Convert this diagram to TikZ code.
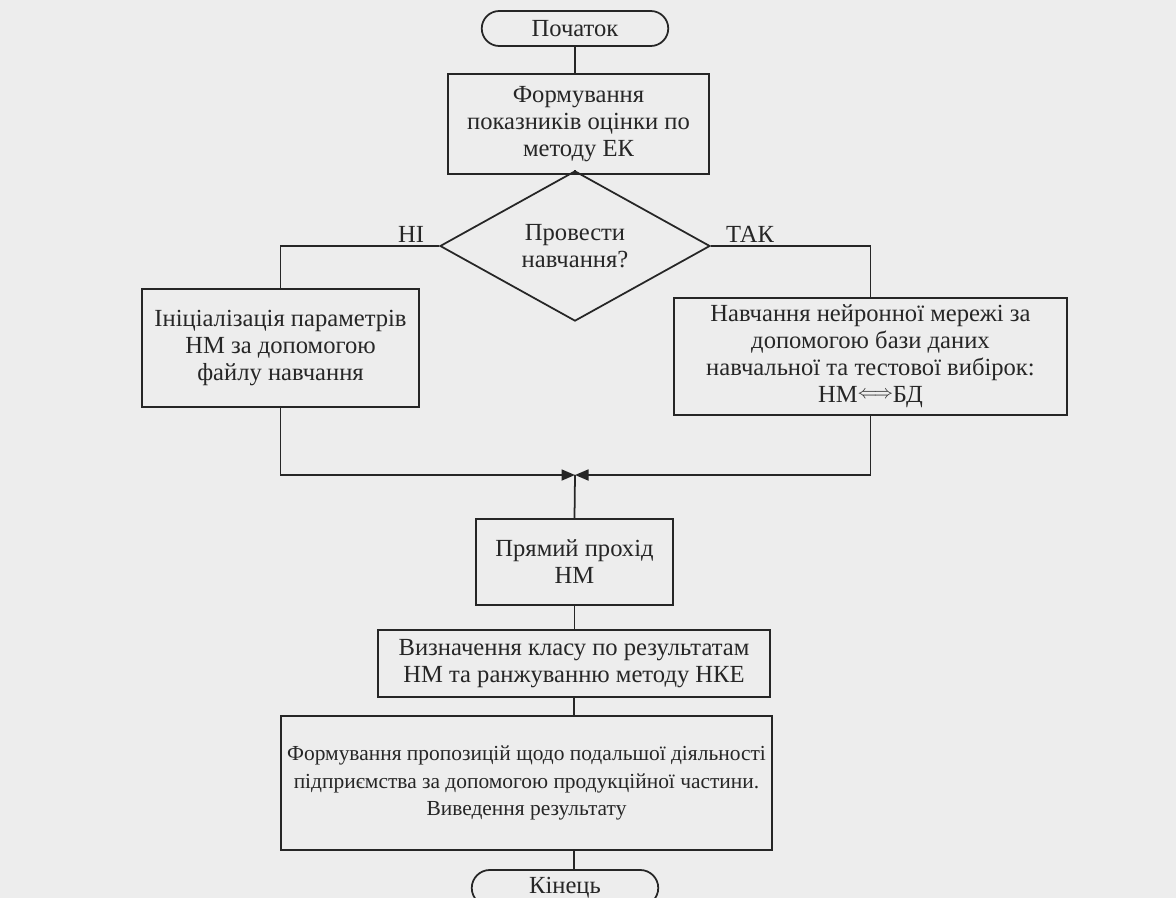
\documentclass[tikz,border=0pt]{standalone}
\usepackage{fontspec}
\setmainfont{Liberation Serif}
\usetikzlibrary{arrows.meta}
\usetikzlibrary{shapes.geometric}
\usetikzlibrary{shapes.misc}

\newcommand{\dvostril}{\raisebox{0.4ex}{\fontsize{11}{11}\selectfont$\Longleftrightarrow$}}

\tikzset{
  blok/.style={draw=black!85, line width=1pt, rectangle, align=center, inner sep=1pt,
    text=black!85, font=\fontsize{14}{15.4}\selectfont},
  kray/.style={blok, rounded rectangle},
  umova/.style={blok, diamond, minimum width=5.4cm, minimum height=2.2cm, inner sep=0pt},
  pidpys/.style={text=black!85, font=\fontsize{14}{15.4}\selectfont},
  zvjazok/.style={draw=black!85, line width=1pt},
  strilka/.style={zvjazok, -{Triangle[length=0.27cm,width=0.22cm]}},
}

\begin{document}
\begin{tikzpicture}

\useasboundingbox (0,0) rectangle (23.52,-17.96);
\fill[black!7] (0,0) rectangle (23.52,-17.96);

\node[kray, minimum width=3.8cm, minimum height=0.7cm] (pochatok) at (11.5,-0.57) {Початок};
\node[blok, minimum width=5.22cm, minimum height=2cm] (formuv) at (11.57,-2.48)
  {Формування\\показників оцінки по\\методу ЕК};
\node[umova] (navch) at (11.5,-4.92) {Провести\\навчання?};
\node[pidpys] (ni) at (8.22,-4.68) {НІ};
\node[pidpys] (tak) at (15.0,-4.68) {ТАК};

\node[blok, minimum width=5.54cm, minimum height=2.36cm] (init) at (5.61,-6.96)
  {Ініціалізація параметрів\\НМ за допомогою\\файлу навчання};
\node[blok, minimum width=7.86cm, minimum height=2.34cm] (merezha) at (17.41,-7.13)
  {Навчання нейронної мережі за\\допомогою бази даних\\навчальної та тестової вибірок:\\НМ\dvostril БД};
\coordinate (zlyttia) at (11.5,-9.5);

\node[blok, minimum width=3.94cm, minimum height=1.72cm] (prokhid) at (11.49,-11.24)
  {Прямий прохід\\НМ};
\node[blok, minimum width=7.84cm, minimum height=1.34cm] (klas) at (11.48,-13.27)
  {Визначення класу по результатам\\НМ та ранжуванню методу НКЕ};
\node[blok, minimum width=9.82cm, minimum height=2.68cm, font=\fontsize{12.2}{15.4}\selectfont] (propoz) at (10.53,-15.66)
  {Формування пропозицій щодо подальшої діяльності\\підприємства за допомогою продукційної частини.\\Виведення результату};
\node[kray, minimum width=3.8cm, minimum height=0.72cm] (kinets) at (11.3,-17.76) {Кінець};

\draw[zvjazok] (pochatok.south) -- (pochatok.south |- formuv.north);
\draw[zvjazok] (pochatok.south |- formuv.south) -- (navch.north);
\draw[zvjazok] (navch.west) -| (init.north);
\draw[zvjazok] (navch.east) -| (merezha.north);
\draw[strilka] (init.south) |- (zlyttia);
\draw[strilka] (merezha.south) |- (zlyttia);
\draw[zvjazok] (zlyttia) -- (prokhid.north);
\draw[zvjazok] (prokhid.south) -- (prokhid.south |- klas.north);
\draw[zvjazok] (klas.south) -- (klas.south |- propoz.north);
\draw[zvjazok] (klas.south |- propoz.south) -- (klas.south |- kinets.north);

\end{tikzpicture}
\end{document}
